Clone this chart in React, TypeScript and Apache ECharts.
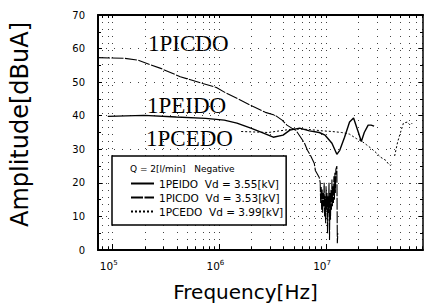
import React, { useEffect, useRef } from "react";
import * as echarts from "echarts";

// ---- data (frequency in Hz, amplitude in dBuA) ----
const picdoFreq = [
  7.28e4, 1.29e5, 1.70e5, 2.82e5, 4.30e5, 6.98e5, 9.38e5, 1.16e6, 1.52e6, 2.05e6,
  2.70e6, 3.34e6, 3.87e6, 4.30e6, 4.77e6, 5.20e6, 5.77e6, 6.28e6, 6.69e6, 7.13e6,
  7.76e6, 7.93e6, 8.63e6,
  8.81e6, 8.90e6, 9.00e6, 9.09e6, 9.19e6, 9.29e6, 9.39e6, 9.49e6, 9.59e6, 9.69e6,
  9.79e6, 9.90e6, 1.000e7, 1.011e7, 1.021e7, 1.032e7, 1.043e7, 1.054e7, 1.065e7, 1.077e7,
  1.088e7, 1.100e7, 1.111e7, 1.123e7, 1.135e7, 1.147e7, 1.159e7, 1.172e7, 1.184e7, 1.197e7,
  1.209e7, 1.222e7, 1.235e7, 1.262e7, 1.275e7, 1.288e7,
];
const picdoAmp = [
  57.3, 57.1, 56.6, 54.1, 51.6, 49.6, 48.4, 46.7, 44.9, 42.8,
  41.0, 40.1, 38.7, 37.2, 36.3, 35.7, 33.6, 31.8, 29.7, 28.2,
  25.8, 23.7, 21.6,
  20.1, 14, 19, 12, 18, 11, 17, 13, 20, 10,
  16, 8, 19, 12, 17, 5, 16, 11, 20, 3,
  17, 9, 18, 12, 21, 13, 19, 14, 22, 15,
  23, 17, 24, 25, 2, 5,
];

const peidoFreq = [
  9.0e4, 1.97e5, 3.95e5, 7.44e5, 1.11e6, 1.46e6, 1.97e6, 2.59e6, 3.20e6, 3.95e6,
  4.58e6, 5.65e6, 6.98e6, 8.63e6, 9.79e6, 1.135e7, 1.262e7, 1.343e7, 1.49e7, 1.66e7,
  1.81e7, 2.01e7, 2.14e7, 2.28e7, 2.48e7, 2.64e7, 2.82e7,
];
const peidoAmp = [
  39.8, 40.1, 39.6, 39.2, 38.7, 37.8, 36.3, 34.8, 33.6, 34.2,
  35.7, 36.3, 35.5, 35.0, 34.2, 31.8, 28.5, 29.7, 33.6, 38.1,
  39.3, 35.0, 32.3, 35.0, 37.2, 37.2, 36.9,
];

const pcedoFreq = [
  1.6e6, 2.87e6, 4.77e6, 6.02e6, 7.44e6, 9.19e6, 1.135e7, 1.40e7, 1.66e7, 1.92e7,
  2.14e7, 2.38e7, 2.64e7, 2.94e7, 3.26e7, 3.63e7, 3.87e7, 4.03e7, 4.21e7, 4.30e7,
  4.39e7, 4.68e7, 4.98e7, 5.31e7, 5.77e7, 6.15e7, 6.42e7,
];
const pcedoAmp = [
  35.3, 35.0, 36.0, 36.0, 35.8, 35.5, 35.3, 35.0, 34.5, 33.2,
  32.5, 31.4, 30.3, 29.0, 27.6, 26.7, 25.5, 25.2, 25.8, null,
  28.0, 32.1, 35.0, 37.8, 38.1, 37.2, 37.8,
];

const seriesNames = ["1PEIDO", "1PICDO", "1PCEDO"];
const legendVd = ["3.55[kV]", "3.53[kV]", "3.99[kV]"];
const legendHeader = "Q = 2[l/min]   Negative";
const curveLabels = ["1PICDO", "1PEIDO", "1PCEDO"];

const xMin = 7.28e4;
const xMax = 8.1e7;
const majorDecades = [5, 6, 7];
const tickMultipliers = [1, 2, 3, 4, 5, 6, 7, 8, 9];
const tickDecades = [1e4, 1e5, 1e6, 1e7];
const yTicks = { min: 0, max: 70, interval: 10 };

const toPairs = (f: number[], a: (number | null)[]) =>
  f.map((v, i) => [Math.log10(v), a[i]]);

export default function App() {
  const ref = useRef<HTMLDivElement>(null);
  useEffect(() => {
    if (!ref.current) return;
    const chart = echarts.init(ref.current, undefined, { renderer: "svg" });
    const lo = Math.log10(xMin);
    const hi = Math.log10(xMax);
    const minorExp: number[] = [];
    tickDecades.forEach((d) =>
      tickMultipliers.forEach((m) => {
        const e = Math.log10(d * m);
        if (e >= lo && e <= hi) minorExp.push(e);
      })
    );
    const font = "DejaVu Sans";
    const axisBase = {
      type: "value",
      min: lo,
      max: hi,
      axisLine: { show: true, onZero: false, lineStyle: { color: "#000", width: 2 } },
    };
    const vdMap: Record<string, string> = {};
    seriesNames.forEach((n, i) => (vdMap[n] = `${n}  Vd = ${legendVd[i]}`));

    chart.setOption({
      animation: false,
      backgroundColor: "#fff",
      grid: { left: 91, right: 1, top: 15, bottom: 57 },
      xAxis: [
        {
          ...axisBase,
          position: "bottom",
          axisTick: { show: true, inside: true, length: 3, customValues: minorExp, lineStyle: { color: "#000" } },
          axisLabel: {
            customValues: majorDecades,
            margin: 9,
            color: "#000",
            padding: [0, 8, 0, 0],
            formatter: (v: number) => `{b|10}{s|${Math.round(v)}}`,
            rich: {
              b: { fontSize: 10.5, fontFamily: font, color: "#000" },
              s: { fontSize: 7, fontFamily: font, color: "#000", padding: [0, 0, 7, 0] },
            },
          },
          splitLine: { show: true, lineStyle: { color: "#444", type: [1, 6], width: 1 } },
          name: "Frequency[Hz]",
          nameLocation: "middle",
          nameGap: 32,
          nameTextStyle: { fontSize: 20, fontFamily: font, color: "#000", padding: [0, 30, 0, 0] },
        },
        {
          ...axisBase,
          position: "top",
          axisTick: { show: true, inside: true, length: 3, customValues: minorExp, lineStyle: { color: "#000" } },
          axisLabel: { show: false },
          splitLine: { show: false },
        },
        {
          ...axisBase,
          position: "bottom",
          axisLine: { show: false },
          axisTick: { show: true, inside: true, length: 6, customValues: majorDecades, lineStyle: { color: "#000" } },
          axisLabel: { show: false },
          splitLine: { show: false },
        },
      ],
      yAxis: [
        {
          type: "value",
          position: "left",
          ...yTicks,
          axisLine: { show: true, onZero: false, lineStyle: { color: "#000", width: 2 } },
          axisTick: { show: true, inside: true, length: 4, lineStyle: { color: "#000" } },
          minorTick: { show: true, splitNumber: 2, length: 3, lineStyle: { color: "#000" } },
          axisLabel: { color: "#000", fontSize: 10, fontFamily: font, margin: 13 },
          splitLine: { show: true, lineStyle: { color: "#444", type: [1, 7], width: 1 } },
          name: "Amplitude[dBuA]",
          nameLocation: "middle",
          nameGap: 66,
          nameTextStyle: { fontSize: 24, fontFamily: font, color: "#000", padding: [0, 0, 0, 16] },
        },
        {
          type: "value",
          position: "right",
          ...yTicks,
          axisLine: { show: true, onZero: false, lineStyle: { color: "#000", width: 1.5 } },
          axisTick: { show: true, inside: true, length: 4, lineStyle: { color: "#000" } },
          minorTick: { show: true, splitNumber: 2, length: 3, lineStyle: { color: "#000" } },
          axisLabel: { show: false },
          splitLine: { show: false },
        },
      ],
      legend: {
        orient: "vertical",
        left: 112,
        top: 156,
        padding: [22, 3, 8, 18],
        itemGap: 3,
        itemWidth: 23,
        itemHeight: 10,
        borderColor: "#000",
        borderWidth: 1.5,
        backgroundColor: "#fff",
        data: seriesNames,
        formatter: (n: string) => vdMap[n],
        itemStyle: { opacity: 0 },
        textStyle: { fontSize: 10.5, fontFamily: font, color: "#000", lineHeight: 10 },
      },
      graphic: [
        {
          type: "text",
          left: 130,
          top: 164,
          z: 100,
          style: { text: legendHeader, font: `9px "${font}"`, fill: "#000" },
        },
        {
          type: "text",
          x: 148,
          y: 43.5,
          style: { text: curveLabels[0], font: '23px "Liberation Serif"', fill: "#000", verticalAlign: "middle" },
        },
        {
          type: "text",
          x: 147,
          y: 105.5,
          style: { text: curveLabels[1], font: '23px "Liberation Serif"', fill: "#000", verticalAlign: "middle" },
        },
        {
          type: "text",
          x: 146,
          y: 138.5,
          style: { text: curveLabels[2], font: '23px "Liberation Serif"', fill: "#000", verticalAlign: "middle" },
        },
      ],
      series: [
        {
          name: seriesNames[0],
          type: "line",
          symbol: "none",
          data: toPairs(peidoFreq, peidoAmp),
          lineStyle: { color: "#000", width: 1.4, type: "solid" },
          itemStyle: { color: "#000" },
        },
        {
          name: seriesNames[1],
          type: "line",
          symbol: "none",
          data: toPairs(picdoFreq, picdoAmp),
          lineStyle: { color: "#000", width: 1.1, type: [12, 1.5] },
          itemStyle: { color: "#000" },
        },
        {
          name: seriesNames[2],
          type: "line",
          symbol: "none",
          connectNulls: false,
          data: toPairs(pcedoFreq, pcedoAmp),
          lineStyle: { color: "#000", width: 1, type: [2, 2] },
          itemStyle: { color: "#000" },
        },
      ],
    });
    return () => chart.dispose();
  }, []);
  return (
    <div
      ref={ref}
      style={{ position: "absolute", left: 0, top: 0, width: 424, height: 307, background: "#fff" }}
    />
  );
}
